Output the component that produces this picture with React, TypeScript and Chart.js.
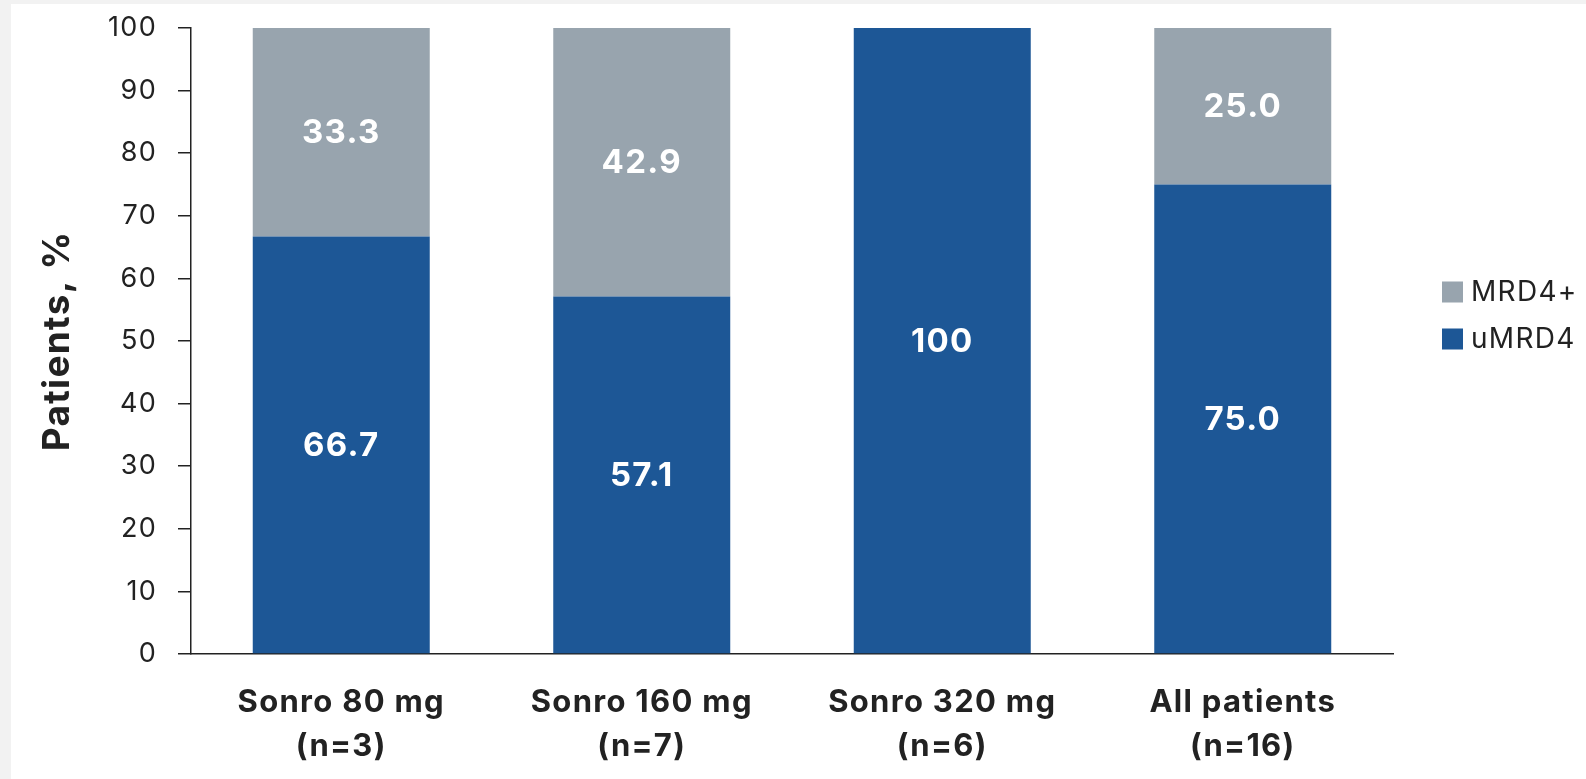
import React, { useEffect, useRef } from "react";
import { Chart, registerables } from "chart.js";

Chart.register(...registerables);

const categories: string[][] = [
  ["Sonro 80 mg", "(n=3)"],
  ["Sonro 160 mg", "(n=7)"],
  ["Sonro 320 mg", "(n=6)"],
  ["All patients", "(n=16)"],
];
const uMRD4Values = [66.7, 57.1, 100, 75.0];
const mrd4PosValues = [33.3, 42.9, 0, 25.0];
const uMRD4Labels = ["66.7", "57.1", "100", "75.0"];
const mrd4PosLabels = ["33.3", "42.9", "", "25.0"];
const yTickValues = [0, 10, 20, 30, 40, 50, 60, 70, 80, 90, 100];

const BLUE = "#1d5796";
const GRAY = "#98a4ae";
const TEXT = "#222222";
const FONT = "Inter, 'Open Sans', sans-serif";

const spacingPlugin = {
  id: "letterSpacing",
  beforeDraw(chart: any) {
    try {
      chart.ctx.letterSpacing = "1.3px";
    } catch (e) {
      /* ignore */
    }
  },
};

const barLabelPlugin = {
  id: "barLabels",
  afterDatasetsDraw(chart: any) {
    const ctx = chart.ctx;
    const sets = [uMRD4Labels, mrd4PosLabels];
    ctx.save();
    ctx.fillStyle = "#ffffff";
    ctx.font = `bold 33px ${FONT}`;
    ctx.textAlign = "center";
    ctx.textBaseline = "middle";
    sets.forEach((labels, di) => {
      const meta = chart.getDatasetMeta(di);
      meta.data.forEach((el: any, i: number) => {
        const t = labels[i];
        if (!t) return;
        const p = el.getCenterPoint();
        ctx.fillText(t, p.x, p.y + 1);
      });
    });
    ctx.restore();
  },
};

const legendPlugin = {
  id: "sideLegend",
  afterDraw(chart: any) {
    const ctx = chart.ctx;
    const area = chart.chartArea;
    const items = [
      { text: chart.data.datasets[1].label, color: GRAY },
      { text: chart.data.datasets[0].label, color: BLUE },
    ];
    const x0 = area.right + 49;
    const yStart = area.top + 264;
    ctx.save();
    ctx.font = `28px ${FONT}`;
    ctx.textBaseline = "middle";
    ctx.textAlign = "left";
    items.forEach((it, i) => {
      const cy = yStart + i * 47;
      ctx.fillStyle = it.color;
      ctx.fillRect(x0, cy - 10.5, 21, 21);
      ctx.fillStyle = TEXT;
      ctx.fillText(it.text, x0 + 29, cy + 1);
    });
    ctx.restore();
  },
};

export default function App() {
  const ref = useRef<HTMLCanvasElement | null>(null);

  useEffect(() => {
    if (!ref.current) return;
    const chart = new Chart(ref.current, {
      type: "bar",
      data: {
        labels: categories,
        datasets: [
          {
            label: "uMRD4",
            data: uMRD4Values,
            backgroundColor: BLUE,
            categoryPercentage: 1,
            barPercentage: 0.589,
          },
          {
            label: "MRD4+",
            data: mrd4PosValues,
            backgroundColor: GRAY,
            categoryPercentage: 1,
            barPercentage: 0.589,
          },
        ],
      },
      options: {
        animation: false,
        responsive: false,
        maintainAspectRatio: false,
        layout: { padding: { left: 0, right: 193, top: 24, bottom: 0 } },
        plugins: {
          legend: { display: false },
          tooltip: { enabled: false },
        },
        scales: {
          x: {
            stacked: true,
            grid: { display: false, drawTicks: false },
            border: { display: true, color: TEXT, width: 1.5 },
            ticks: {
              color: TEXT,
              font: { family: FONT, size: 31, weight: "bold", lineHeight: 1.42 },
              padding: 27,
              maxRotation: 0,
              autoSkip: false,
            },
            afterFit: (s: any) => {
              s.height = 125;
            },
          },
          y: {
            stacked: true,
            min: 0,
            max: 100,
            afterBuildTicks: (s: any) => {
              s.ticks = yTickValues.map((v) => ({ value: v }));
            },
            grid: {
              display: true,
              drawOnChartArea: false,
              drawTicks: true,
              tickLength: 13,
              color: TEXT,
              lineWidth: 1.5,
            },
            border: { display: true, color: TEXT, width: 1.5 },
            ticks: {
              color: TEXT,
              font: { family: FONT, size: 27 },
              padding: 21,
            },
            title: {
              display: true,
              text: "Patients, %",
              color: TEXT,
              font: { family: FONT, size: 37, weight: "bold" },
              padding: { top: 25, bottom: 0 },
            },
            afterFit: (s: any) => {
              s.width = 180;
              s.paddingTop = 0;
              s.paddingBottom = 0;
            },
          },
        },
      },
      plugins: [spacingPlugin, barLabelPlugin, legendPlugin],
    });
    return () => chart.destroy();
  }, []);

  return (
    <div style={{ position: "fixed", inset: 0, background: "#f2f2f2" }}>
      <div
        style={{
          position: "absolute",
          left: 11,
          top: 4,
          width: 1575,
          height: 775,
          background: "#ffffff",
        }}
      >
        <canvas ref={ref} width={1575} height={775} style={{ display: "block" }} />
      </div>
    </div>
  );
}
